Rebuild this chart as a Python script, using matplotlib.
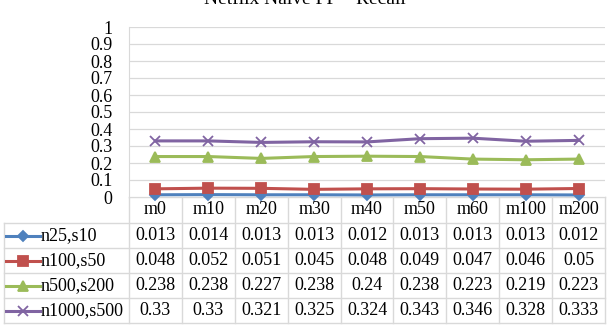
import matplotlib
matplotlib.use("Agg")
import matplotlib.pyplot as plt
from matplotlib.lines import Line2D

plt.rcParams["font.family"] = ["Liberation Serif", "DejaVu Serif"]

# ──────────────────────────────────────────────
# Data
# ──────────────────────────────────────────────
categories = ["m0", "m10", "m20", "m30", "m40", "m50", "m60", "m100", "m200"]
series_names = ["n25,s10", "n100,s50", "n500,s200", "n1000,s500"]
n25_s10 = [0.013, 0.014, 0.013, 0.013, 0.012, 0.013, 0.013, 0.013, 0.012]
n100_s50 = [0.048, 0.052, 0.051, 0.045, 0.048, 0.049, 0.047, 0.046, 0.05]
n500_s200 = [0.238, 0.238, 0.227, 0.238, 0.24, 0.238, 0.223, 0.219, 0.223]
n1000_s500 = [0.33, 0.33, 0.321, 0.325, 0.324, 0.343, 0.346, 0.328, 0.333]
y_ticks = [0, 0.1, 0.2, 0.3, 0.4, 0.5, 0.6, 0.7, 0.8, 0.9, 1]
title = "Netflix Naive FP \u2013 Recall"

series = [n25_s10, n100_s50, n500_s200, n1000_s500]
colors = ["#4F81BD", "#C0504D", "#9BBB59", "#8064A2"]
markers = ["D", "s", "^", "x"]
msizes = [5, 7, 7, 7]

W, H = 610, 325
FS = 13
GRID = "#d9d9d9"

fig = plt.figure(figsize=(W / 100, H / 100), dpi=100)

# plot area in pixels
left, right, top, bottom = 129, 605, 27, 197
ax = fig.add_axes([left / W, 1 - bottom / H, (right - left) / W, (bottom - top) / H])

x = list(range(len(categories)))
for vals, c, m, ms in zip(series, colors, markers, msizes):
    ax.plot(x, vals, color=c, lw=2.2, marker=m, markersize=ms,
            markeredgewidth=1.3, clip_on=False, zorder=3)

ax.set_xlim(-0.5, len(categories) - 0.5)
ax.set_ylim(0, 1)
ax.set_yticks(y_ticks)
ax.set_yticklabels([f"{v:g}" for v in y_ticks], fontsize=FS)
ax.tick_params(axis="y", length=0, pad=12)
ax.set_xticks([])
ax.yaxis.grid(True, color=GRID, lw=0.9)
ax.set_axisbelow(True)
for s in ["top", "right", "bottom"]:
    ax.spines[s].set_visible(False)
ax.spines["left"].set_color(GRID)

# ──────────────────────────────────────────────
# Data table below the plot (pixel coordinates)
# ──────────────────────────────────────────────
tab = fig.add_axes([0, 0, 1, 1], zorder=-1)
tab.set_xlim(0, W)
tab.set_ylim(H, 0)
tab.axis("off")

label_left = 4
header_h = 26
row_h = 25
col_w = (right - left) / len(categories)
table_bottom = bottom + header_h + row_h * len(series)

def hline(x0, x1, y):
    tab.add_line(Line2D([x0, x1], [y, y], color=GRID, lw=1))

def vline(x, y0, y1):
    tab.add_line(Line2D([x, x], [y0, y1], color=GRID, lw=1))

hline(left, right, bottom)
for i in range(len(series) + 1):
    hline(label_left, right, bottom + header_h + i * row_h)
for j in range(len(categories) + 1):
    vline(left + j * col_w, bottom, table_bottom)
vline(label_left, bottom + header_h, table_bottom)

for j, cat in enumerate(categories):
    tab.text(left + (j + 0.5) * col_w, bottom + header_h / 2, cat,
             ha="center", va="center", fontsize=FS)

for i, (name, vals, c, m, ms) in enumerate(zip(series_names, series, colors, markers, msizes)):
    yc = bottom + header_h + (i + 0.5) * row_h
    tab.add_line(Line2D([6, 40], [yc, yc], color=c, lw=2.2))
    tab.add_line(Line2D([23], [yc], color=c, marker=m, markersize=ms,
                        markeredgewidth=1.3))
    tab.text(41, yc, name, ha="left", va="center", fontsize=FS)
    for j, v in enumerate(vals):
        tab.text(left + (j + 0.5) * col_w, yc, f"{v:g}",
                 ha="center", va="center", fontsize=FS)

fig.text(0.5, 1 - 4 / H, title, ha="center", va="baseline", fontsize=14)

fig.savefig("out.png", dpi=100, facecolor="white")
